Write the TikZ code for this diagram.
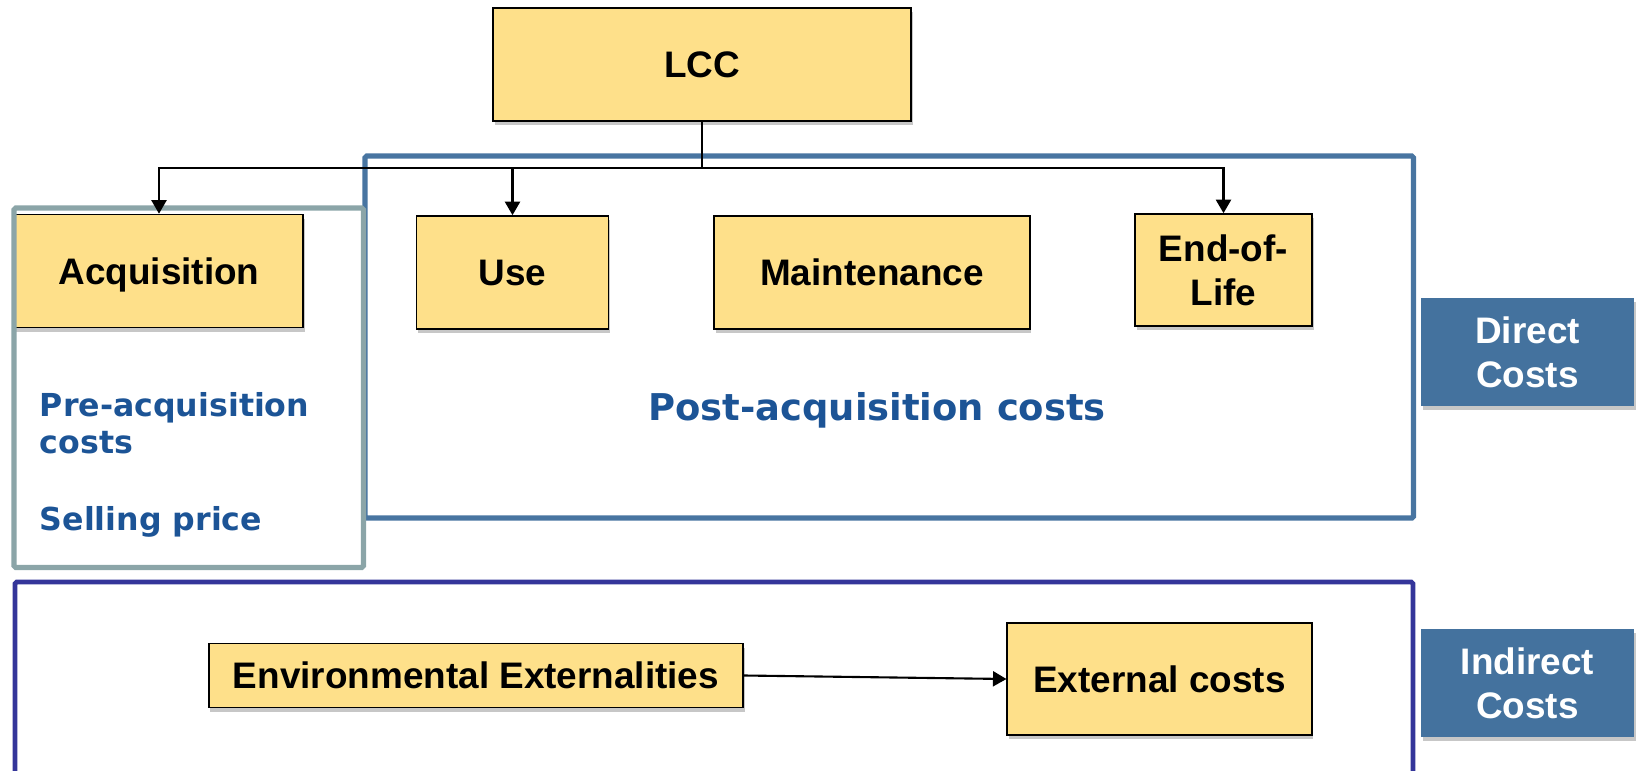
\documentclass[tikz,border=0pt]{standalone}
\usepackage{fontspec}
\setmainfont{Liberation Sans}
\newfontfamily\notefont{DejaVu Sans}
\usetikzlibrary{arrows.meta,shadows}
\definecolor{yel}{RGB}{254,224,138}
\definecolor{tagblue}{RGB}{68,114,158}
\definecolor{frblue}{RGB}{72,117,161}
\definecolor{frgray}{RGB}{139,165,168}
\definecolor{frind}{RGB}{52,53,154}
\definecolor{txtblue}{RGB}{28,84,150}
\begin{document}
\begin{tikzpicture}[
 font=\fontsize{21}{25}\selectfont\bfseries,
 blk/.style={draw=black,line width=0.9pt,fill=yel,inner sep=0pt,align=center,
  drop shadow={shadow xshift=0.03cm,shadow yshift=-0.08cm,opacity=0.22,fill=black}},
 tag/.style={fill=tagblue,text=white,inner sep=0pt,align=center,
  minimum width=4.26cm,minimum height=2.16cm,
  drop shadow={shadow xshift=0.03cm,shadow yshift=-0.08cm,opacity=0.22,fill=black}},
 lnk/.style={-{Triangle[length=2.7mm,width=3mm]},line width=1.2pt,black},
 note/.style={text=txtblue,inner sep=0pt,font=\notefont\fontsize{18}{21.6}\selectfont\bfseries},
 fra/.style={draw=frgray,line width=2.9pt,rounded corners=1pt},
 frd/.style={draw=frblue,line width=3pt,rounded corners=1pt},
 fri/.style={draw=frind,line width=2.7pt,rounded corners=1pt}]
\useasboundingbox (0,0) rectangle (32.86,-15.42);
\node[blk,minimum width=8.36cm,minimum height=2.25cm] (lcc) at (14.04,-1.29) {LCC};
\node[blk,minimum width=5.76cm,minimum height=2.26cm,text depth=0pt] (acq) at (3.18,-5.42) {Acquisition};
\node[blk,minimum width=3.84cm,minimum height=2.26cm] (use) at (10.25,-5.45) {Use};
\node[blk,minimum width=6.31cm,minimum height=2.26cm] (mnt) at (17.44,-5.45) {Maintenance};
\node[blk,minimum width=3.54cm,minimum height=2.24cm] (eol) at (24.47,-5.40) {End-of-\\Life};
\node[blk,minimum width=10.69cm,minimum height=1.28cm] (env) at (9.52,-13.51) {Environmental Externalities};
\node[blk,minimum width=6.09cm,minimum height=2.25cm] (ext) at (23.19,-13.58) {External costs};
\node[tag] (dir) at (30.55,-7.04) {Direct\\Costs};
\node[tag] (ind) at (30.55,-13.66) {Indirect\\Costs};
\node[note,anchor=base west,text width=8cm,align=left] (pre) at (0.79,-8.32) {Pre-acquisition\\costs};
\node[note,anchor=base west] (sell) at (0.79,-10.6) {Selling price};
\node[note,anchor=base,font=\notefont\fontsize{21}{25}\selectfont\bfseries] (post) at (17.54,-8.41) {Post-acquisition costs};
\draw[frd] (7.3,-3.12) rectangle (28.27,-10.36);
\draw[fra] (0.28,-4.16) rectangle (7.27,-11.35);
\draw[fri] (0.3,-11.64) rectangle (28.26,-15.7);
\coordinate (bus) at (14.04,-3.36);
\draw[lnk] (lcc.south) -- (bus) -| (acq.north);
\draw[lnk] (bus) -| (use.north);
\draw[lnk] (bus) -| (eol.north);
\draw[lnk] (env.east) -- (ext.west);
\end{tikzpicture}
\end{document}
